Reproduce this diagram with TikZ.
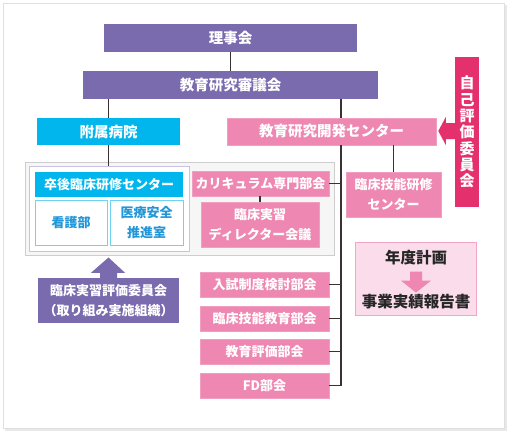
\documentclass[tikz,border=0pt]{standalone}
\usepackage{fontspec}
\usetikzlibrary{calc}
\setmainfont{Noto Sans CJK JP}
\definecolor{purp}{HTML}{7A6AAE}
\definecolor{cyanb}{HTML}{00B6EC}
\definecolor{pinkb}{HTML}{EE87B1}
\definecolor{magen}{HTML}{E4316E}
\definecolor{lpink}{HTML}{FADCEA}
\definecolor{lpinkd}{HTML}{F2A6C8}
\definecolor{lav}{HTML}{C9C3E3}
\definecolor{grayf}{HTML}{F6F6F6}
\definecolor{grayd}{HTML}{CDCDCD}
\definecolor{cyand}{HTML}{6CD3F3}
\definecolor{bluet}{HTML}{2196D8}
\definecolor{linec}{HTML}{3A3232}
\tikzset{
  bx/.style={inner sep=0pt, align=center, text=white, font=\bfseries\fontsize{13}{19.5}\selectfont},
  big/.style={font=\bfseries\fontsize{14.5}{18}\selectfont},
  pu/.style={bx, fill=purp},
  cy/.style={bx, fill=cyanb},
  pk/.style={bx, fill=pinkb, draw=pinkb!80!white, line width=0.6pt},
  wb/.style={bx, fill=white, draw=cyand, line width=1pt, text=bluet},
  conn/.style={draw=linec, line width=1.3pt},
}
\begin{document}
\begin{tikzpicture}[x=1pt,y=-1pt]
\useasboundingbox (0,0) rectangle (508,433);
% frame
\fill[gray!18] (5,5) rectangle (507,431);
\fill[white, draw=gray!25, line width=0.6pt] (3,3) rectangle (504,428);
% grey group box
\node[fill=grayf, draw=grayd, line width=0.8pt, minimum width=309pt, minimum height=93pt, inner sep=0pt] (grp) at (179.5,208.5) {};
\node[fill=white, draw=lav, line width=1pt, minimum width=160pt, minimum height=85pt, inner sep=0pt] (hosp) at (109,208.5) {};
% top
\node[pu, big, minimum width=253pt, minimum height=28pt] (rij) at (230.5,38) {理事会};
\node[pu, big, minimum width=295pt, minimum height=28pt] (shin) at (230.5,85) {教育研究審議会};
\node[cy, big, minimum width=143pt, minimum height=27pt] (fuz) at (108.5,131.5) {附属病院};
\node[pk, big, minimum width=209pt, minimum height=27pt] (kai) at (331.5,131.5) {教育研究開発センター};
% hospital group
\node[cy, minimum width=148pt, minimum height=25pt] (sot) at (109,184.5) {卒後臨床研修センター};
\node[wb, minimum width=72pt, minimum height=45pt] (kan) at (71,222.5) {看護部};
\node[wb, minimum width=73pt, minimum height=45pt] (iry) at (146.5,222.5) {医療安全\\推進室};
% pink
\node[pk, minimum width=137pt, minimum height=25pt] (cur) at (260.5,183.5) {カリキュラム専門部会};
\node[pk, minimum width=118pt, minimum height=45pt] (dir) at (260,224.5) {臨床実習\\ディレクター会議};
\node[pk, minimum width=95pt, minimum height=45pt] (gik) at (393.5,194.5) {臨床技能研修\\センター};
\node[pk, minimum width=129pt, minimum height=25pt] (nyu) at (264.5,284.5) {入試制度検討部会};
\node[pk, minimum width=129pt, minimum height=25pt] (gkb) at (264.5,318.5) {臨床技能教育部会};
\node[pk, minimum width=129pt, minimum height=25pt] (hyo) at (264.5,351.5) {教育評価部会};
\node[pk, minimum width=129pt, minimum height=25pt] (fd) at (264.5,385.5) {FD部会};
% plan box
\node[fill=lpink, draw=lpinkd, line width=0.8pt, minimum width=121pt, minimum height=73pt, inner sep=0pt] (plan) at (415.5,278.5) {};
\node[font=\bfseries\fontsize{15.5}{18}\selectfont, text=black!85, inner sep=0pt] (nen) at (416,258) {年度計画};
\node[font=\bfseries\fontsize{15.5}{18}\selectfont, text=black!85, inner sep=0pt] (jig) at (416,302) {事業実績報告書};
\fill[pinkb] ($(nen.south)+(-6,6)$) rectangle ($(nen.south)+(6,15)$)
  ($(nen.south)+(-15,15)$) -- ($(nen.south)+(15,15)$) -- ($(nen.south)+(0,27)$) -- cycle;
% evaluation committee
\node[pu, minimum width=141pt, minimum height=45pt] (rin) at (108.5,300.5) {臨床実習評価委員会\\（取り組み実施組織）};
\fill[purp] ($(rin.north)+(-8.5,0.5)$) -- ($(rin.north)+(-8.5,-5)$) -- ($(rin.north)+(-17.5,-5)$)
  -- ($(hosp.south)+(-0.5,6)$) -- ($(rin.north)+(16.5,-5)$) -- ($(rin.north)+(8.5,-5)$) -- ($(rin.north)+(8.5,0.5)$) -- cycle;
% self evaluation
\node[bx, fill=magen, minimum width=24pt, minimum height=150pt, font=\bfseries\fontsize{15}{16.3}\selectfont] (jik) at (467,132) {自\\己\\評\\価\\委\\員\\会};
\fill[magen] ($(jik.west)+(0.5,-9)$) -- ($(jik.west)+(-9,-9)$) -- ($(jik.west)+(-9,-15)$) -- ($(kai.east)+(2,-0.5)$) -- ($(jik.west)+(-9,13)$) -- ($(jik.west)+(-9,7)$) -- ($(jik.west)+(0.5,7)$) -- cycle;
% connectors
\coordinate (tr) at (341,0);
\draw[conn] (rij.south) -- (shin.north);
\draw[conn] (shin.south -| fuz.north) -- (fuz.north);
\draw[conn] (shin.south -| tr) -- (kai.north -| tr);
\draw[conn] (fuz.south) -- (hosp.north -| fuz.south);
\draw[conn] (kai.south -| tr) -- (fd.east -| tr) -- (fd.east);
\draw[conn] (cur.east) -- (cur.east -| tr);
\draw[conn] (nyu.east) -- (nyu.east -| tr);
\draw[conn] (gkb.east) -- (gkb.east -| tr);
\draw[conn] (hyo.east) -- (hyo.east -| tr);
\draw[conn] (gik.north |- kai.south) -- (gik.north);
\draw[conn] (cur.south -| dir.north) -- (dir.north);
\end{tikzpicture}
\end{document}
